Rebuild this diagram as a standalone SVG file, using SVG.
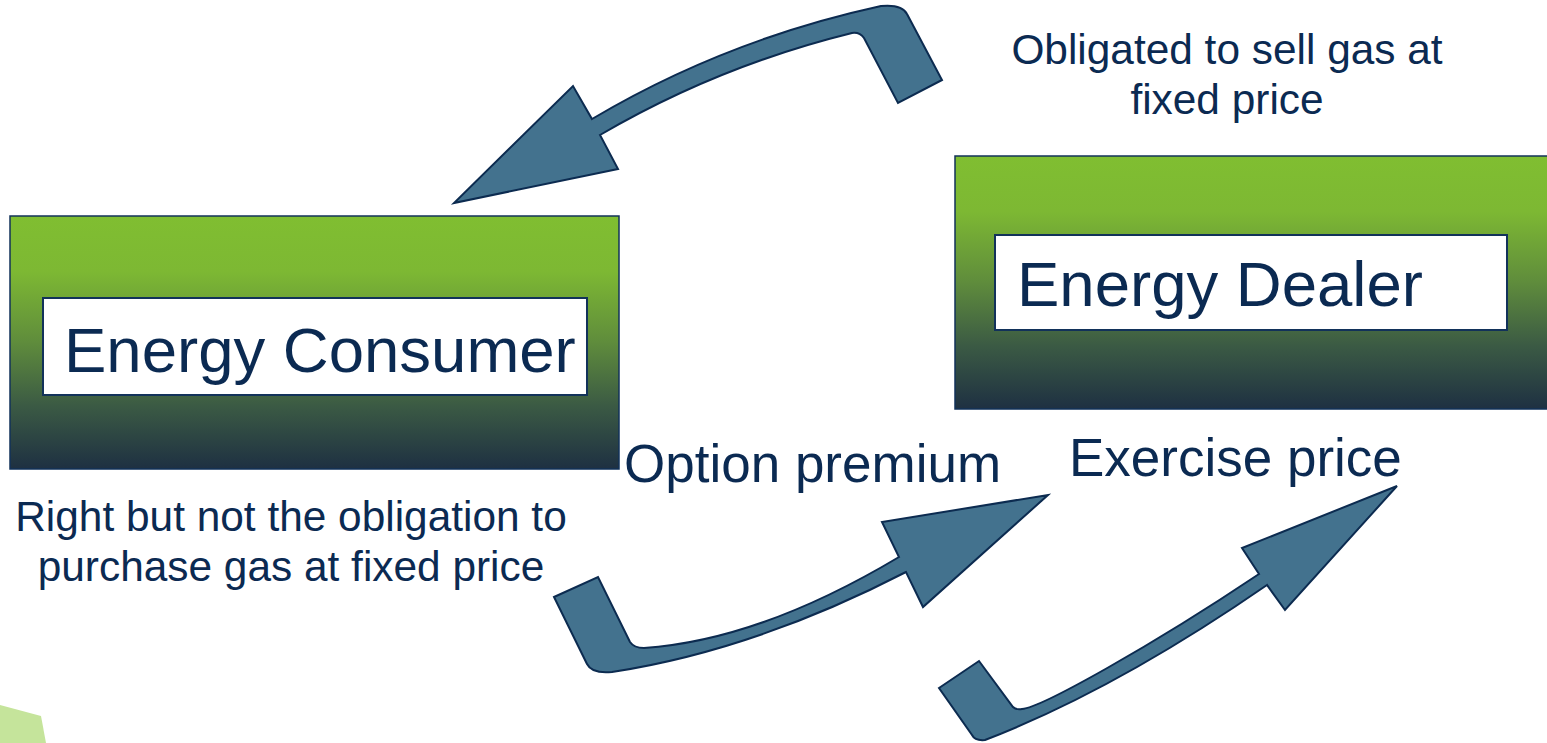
<svg xmlns="http://www.w3.org/2000/svg" width="1547" height="743" viewBox="0 0 1547 743">
<defs>
<linearGradient id="boxGrad" x1="0" y1="0" x2="0" y2="1">
<stop offset="0" stop-color="#80be31"/>
<stop offset="0.22" stop-color="#7db833"/>
<stop offset="0.5" stop-color="#5f8c3c"/>
<stop offset="0.75" stop-color="#3b5a44"/>
<stop offset="1" stop-color="#1e3042"/>
</linearGradient>
<style>
.outer{fill:url(#boxGrad);stroke:#12325a;stroke-width:1.5}
.inner{fill:#ffffff;stroke:#12325a;stroke-width:2}
.title{font-family:"Liberation Sans",Arial,sans-serif;font-size:63.5px;fill:#0b2a52}
.label{font-family:"Liberation Sans",Arial,sans-serif;font-size:42.4px;fill:#0b2a52;text-anchor:middle}
.big{font-family:"Liberation Sans",Arial,sans-serif;font-size:53px;fill:#0b2a52}
.arrow{fill:#43728e;stroke:#0c2b50;stroke-width:2;stroke-linejoin:miter}
</style>
</defs>
<rect width="1547" height="743" fill="#ffffff"/>
<polygon points="0,705 41,716 46,743 0,743" fill="#c5e49b"/>
<g id="consumer">
<rect class="outer" x="10" y="216" width="609" height="253"/>
<rect class="inner" x="43" y="298" width="544" height="97"/>
<text class="title" x="64" y="372">Energy Consumer</text>
</g>
<g id="dealer">
<rect class="outer" x="955" y="156" width="593" height="253"/>
<rect class="inner" x="995" y="235" width="512" height="95"/>
<text class="title" x="1017" y="306">Energy Dealer</text>
</g>
<g id="connectors">
<path class="arrow" d="M 942,80 L 898,103 L 864,38 Q 860,32 852,33 Q 718,66 600,135 L 618,169 L 454,203 L 573,86 L 592,119 Q 725,40 881,6 Q 902,4 907,14 Z"/>
<path class="arrow" d="M 554,597 L 598,577 L 630,642 Q 634,648 644,648 Q 760,640 899,557 L 882,522 L 1048,495 L 923,607 L 906,572 Q 755,650 612,672 Q 592,674 587,664 Z"/>
<path class="arrow" d="M 939,688 L 979,661 L 1013,707 Q 1016,710 1022,709 C 1040,708 1150,647 1259,574 L 1242,548 L 1397,486 L 1285,610 L 1267,585 Q 1115,690 985,740 Q 975,741 972,735 Z"/>
</g>
<g id="labels">
<text class="label" x="1227" y="64">Obligated to sell gas at</text>
<text class="label" x="1227" y="114">fixed price</text>
<text class="label" x="291" y="531">Right but not the obligation to</text>
<text class="label" x="291" y="581">purchase gas at fixed price</text>
<text class="big" x="624" y="482">Option premium</text>
<text class="big" x="1069" y="476">Exercise price</text>
</g>
</svg>
